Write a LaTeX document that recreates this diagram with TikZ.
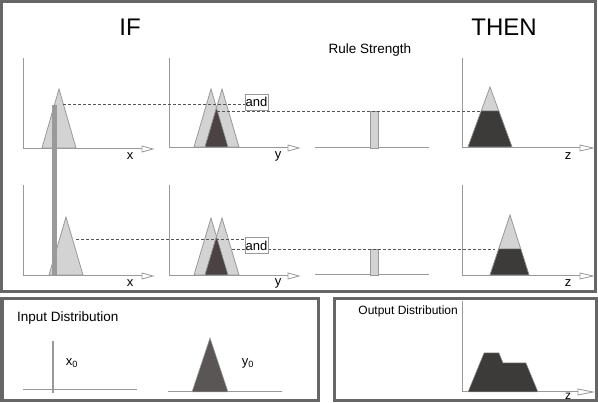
\documentclass[tikz,border=0pt]{standalone}
\usepackage{fontspec}
\setmainfont{Liberation Sans}
\definecolor{framegray}{HTML}{666666}
\definecolor{axisgray}{HTML}{999999}
\definecolor{lightfill}{HTML}{D3D3D3}
\definecolor{darky}{HTML}{4B4343}
\definecolor{darkz}{HTML}{3D3A3A}
\definecolor{inputdark}{HTML}{5B5656}
\definecolor{bargray}{HTML}{9A9A9A}
\definecolor{dashgray}{HTML}{555555}
\begin{document}
\begin{tikzpicture}[x=1pt,y=-1pt,
  panel/.style={draw=framegray, line width=3pt},
  axis/.style={draw=axisgray, line width=1pt},
  arrowhead/.style={draw=axisgray, fill=white, line width=0.8pt, line join=miter},
  mf/.style={fill=lightfill, draw=axisgray, line width=0.8pt},
  cuty/.style={fill=darky, draw=axisgray, line width=0.5pt},
  cutz/.style={fill=darkz, draw=axisgray, line width=0.5pt},
  dashline/.style={draw=dashgray, line width=0.7pt, dash pattern=on 3pt off 2pt},
  lbl/.style={font=\fontsize{13}{13}\selectfont, inner sep=0pt},
  title/.style={font=\fontsize{24}{24}\selectfont, inner sep=0pt},
  andbox/.style={draw=axisgray, fill=white, line width=0.8pt, inner sep=0pt,
    minimum width=23pt, minimum height=16pt, font=\fontsize{13}{13}\selectfont},
]
\useasboundingbox (0,0) rectangle (598,403);

% panels
\draw[panel] (1.5,1.5) rectangle (595.5,291.5);
\draw[panel] (2,299) rectangle (318,401);
\draw[panel] (334,299) rectangle (596,401);

% titles
\node[title] (tif) at (130,27) {IF};
\node[title] (tthen) at (504,27) {THEN};
\node[lbl, font=\fontsize{13.5}{13.5}\selectfont] (trule) at (370,50) {Rule Strength};

% ---------- Row 1 ----------
% x chart
\draw[axis] (23,58) -- (23,149) -- (142,149);
\draw[arrowhead] (142,146) -- (153,149) -- (142,152) -- cycle;
\node[lbl] (lx1) at (130,156) {x};
\draw[mf] (42,148) -- (59,89) -- (76,148) -- cycle;
% y chart
\draw[axis] (169,58) -- (169,148) -- (288,148);
\draw[arrowhead] (288,145) -- (299,148) -- (288,151) -- cycle;
\node[lbl] (ly1) at (278,156) {y};
\draw[mf] (194,147) -- (211,89) -- (228,147) -- cycle;
\draw[mf] (205,147) -- (222,89) -- (239,147) -- cycle;
\draw[cuty] (205,147) -- (216.5,107.8) -- (228,147) -- cycle;
% rule strength
\draw[axis] (315,148) -- (429,148);
\draw[mf] (370,111) rectangle (378,148);
% z chart
\draw[axis] (462,58) -- (462,148) -- (580,148);
\draw[arrowhead] (580,145) -- (593,148) -- (580,151) -- cycle;
\node[lbl] (lz1) at (568,156) {z};
\draw[mf] (468,147) -- (490,87) -- (512,147) -- cycle;
\draw[cutz] (468,147) -- (481.2,111) -- (498.8,111) -- (512,147) -- cycle;

% ---------- Row 2 ----------
% x chart
\draw[axis] (23,185) -- (23,276) -- (142,276);
\draw[arrowhead] (142,273) -- (153,276) -- (142,279) -- cycle;
\node[lbl] (lx2) at (130,283) {x};
\draw[mf] (49,275) -- (66,217) -- (83,275) -- cycle;
% y chart
\draw[axis] (169,185) -- (169,276) -- (288,276);
\draw[arrowhead] (288,273) -- (299,276) -- (288,279) -- cycle;
\node[lbl] (ly2) at (278,283) {y};
\draw[mf] (194,275) -- (211,218) -- (228,275) -- cycle;
\draw[mf] (205,275) -- (222,218) -- (239,275) -- cycle;
\draw[cuty] (205,275) -- (216.5,236.5) -- (228,275) -- cycle;
% rule strength
\draw[axis] (315,275) -- (429,275);
\draw[mf] (370,249) rectangle (378,275);
% z chart
\draw[axis] (462,185) -- (462,276) -- (580,276);
\draw[arrowhead] (580,273) -- (593,276) -- (580,279) -- cycle;
\node[lbl] (lz2) at (568,283) {z};
\draw[mf] (490,275) -- (510,215) -- (529,275) -- cycle;
\draw[cutz] (490,275) -- (498.7,249) -- (520.8,249) -- (529,275) -- cycle;

% input bar
\fill[bargray] (52,105) rectangle (57,276);

% dashed connectors
\coordinate (d1s) at (63,104);
\coordinate (d2s) at (217,111);
\coordinate (d2e) at (480,111);
\coordinate (d3s) at (76,239);
\coordinate (d4s) at (232,249);
\coordinate (d4e) at (495,249);
\node[andbox] (and1) at (256.5,102) {and};
\node[andbox] (and2) at (256.5,245.5) {and};
\draw[dashline] (d1s) -- (d1s -| and1.west);
\draw[dashline] (d2s) -- (d2e);
\draw[dashline] (d3s) -- (d3s -| and2.west);
\draw[dashline] (d4s) -- (and2.west |- d4s);
\draw[dashline] (and2.east |- d4s) -- (d4e);
\node[andbox] at (and1) {and};
\node[andbox] at (and2) {and};

% ---------- Input distribution ----------
\node[lbl, font=\fontsize{13.5}{13.5}\selectfont, anchor=west] (tin) at (17,318) {Input Distribution};
\draw[axis] (23,390) -- (137,390);
\draw[draw=axisgray, line width=1.5pt] (53,341) -- (53,393);
\node[lbl] (lx0) at (72,363) {x\textsubscript{0}};
\draw[axis] (168,392) -- (282,392);
\draw[fill=inputdark, draw=axisgray, line width=0.5pt] (192,392) -- (210,338) -- (228,392) -- cycle;
\node[lbl] (ly0) at (248,363) {y\textsubscript{0}};

% ---------- Output distribution ----------
\node[lbl, font=\fontsize{12}{12}\selectfont, anchor=east] (tout) at (458,311) {Output Distribution};
\draw[axis] (462,301) -- (462,392) -- (578,392);
\draw[arrowhead] (578,389) -- (593,392) -- (578,395) -- cycle;
\node[lbl, font=\fontsize{12}{12}\selectfont] (lzo) at (568,396) {z};
\draw[fill=darkz, draw=axisgray, line width=0.5pt] (468,392) -- (484,353) -- (499,353) -- (503,363) -- (526,363) -- (538,392) -- cycle;
\end{tikzpicture}
\end{document}
